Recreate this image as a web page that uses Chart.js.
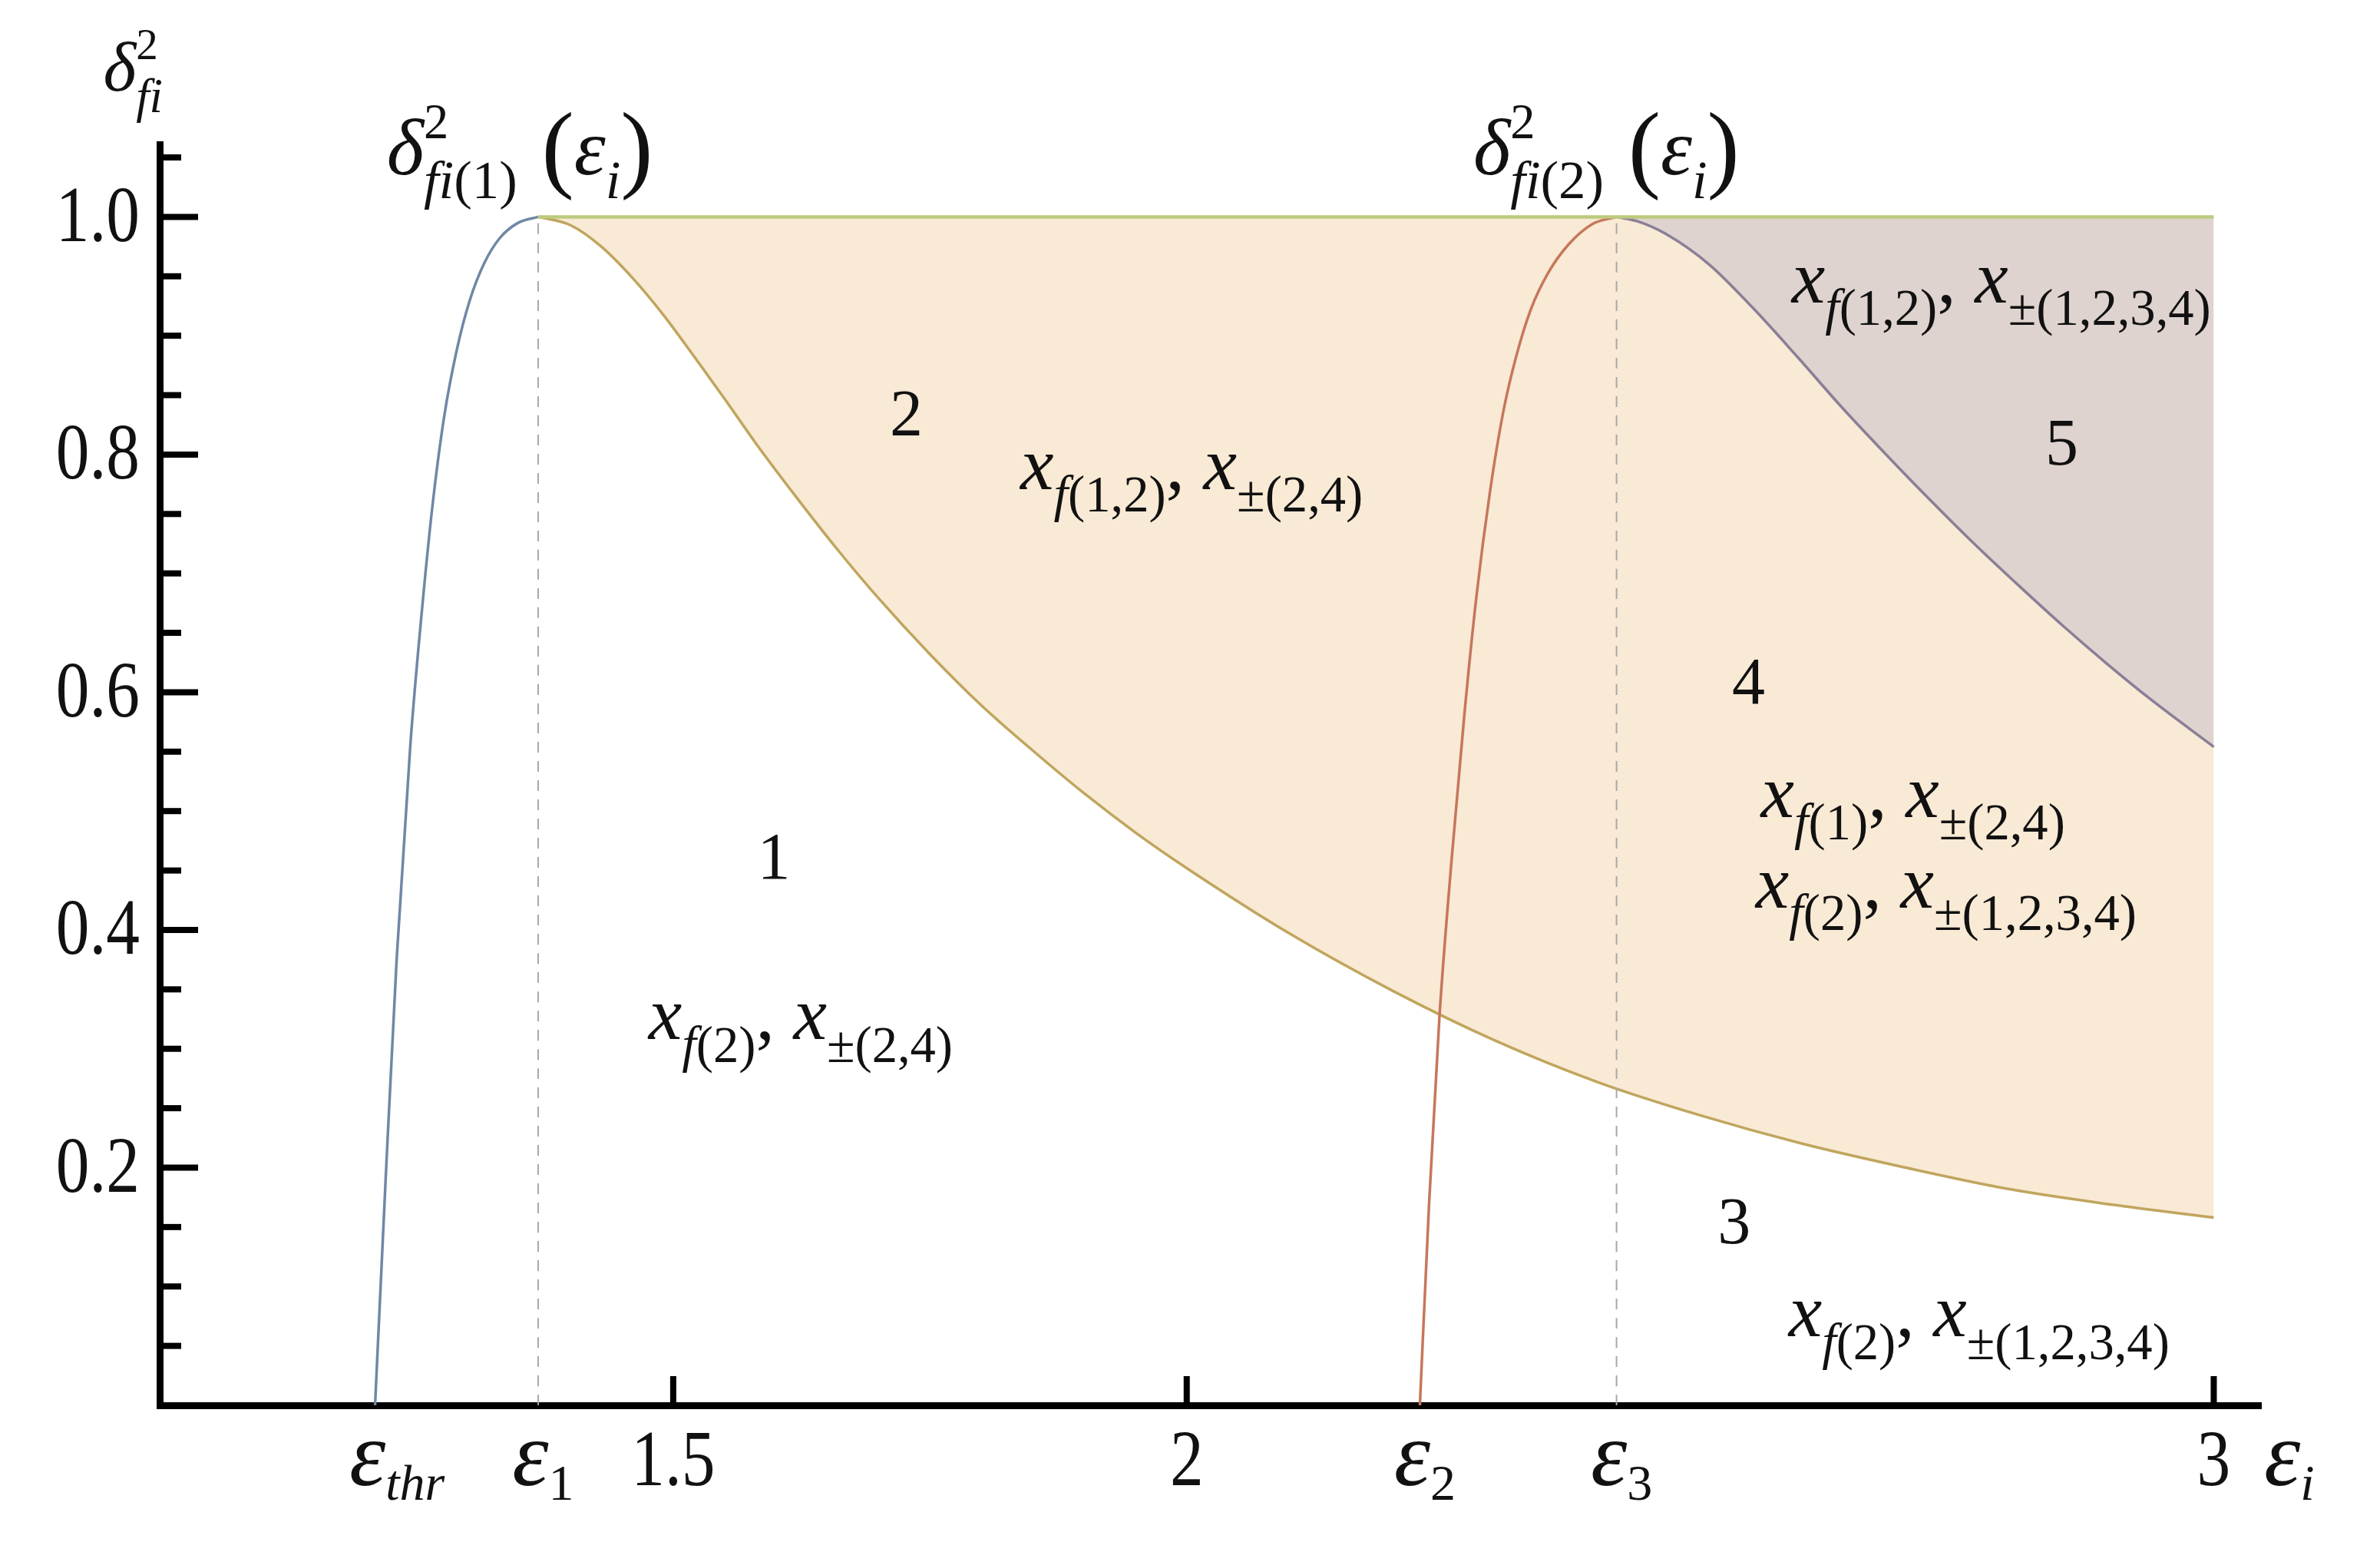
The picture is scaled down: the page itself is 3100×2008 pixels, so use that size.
<!DOCTYPE html>
<html>
<head>
<meta charset="utf-8">
<script src="https://cdn.jsdelivr.net/npm/chart.js@4.4.1/dist/chart.umd.min.js"></script>
<style>
  html, body { margin: 0; padding: 0; background: #fff; }
  canvas { display: block; }
</style>
</head>
<body>
<canvas id="regionChart" width="3100" height="2008"></canvas>
<script>
// characteristic energies marked on the x axis
const epsThr = 1.2097;
const eps1 = 1.3685;
const eps2 = 2.227;
const eps3 = 2.4185;
const epsEnd = 3.0;

// delta^2_fi(1): rising branch from eps_thr to 1 at eps1
const blueEps   = [1.2097, 1.2200, 1.2307, 1.2440, 1.2560, 1.2660, 1.2770, 1.2890, 1.3020, 1.3160, 1.3310, 1.3490, 1.3685];
const blueDelta = [0, 0.190, 0.375, 0.555, 0.675, 0.760, 0.832, 0.887, 0.930, 0.961, 0.982, 0.995, 1.0];

// delta^2_fi(2): rising branch from eps2 to 1 at eps3
const redEps   = [2.2270, 2.2360, 2.2460, 2.2580, 2.2700, 2.2820, 2.2955, 2.3080, 2.3200, 2.3350, 2.3520, 2.3720, 2.3950, 2.4185];
const redDelta = [0, 0.170, 0.326, 0.460, 0.578, 0.680, 0.770, 0.835, 0.880, 0.922, 0.953, 0.977, 0.994, 1.0];

// lower boundary of the shaded region (regions 2 and 4)
const orangeEps   = [1.3685, 1.40, 1.43, 1.46, 1.49, 1.52, 1.55, 1.58, 1.62, 1.66, 1.70, 1.75, 1.80, 1.85, 1.90, 1.95, 2.00, 2.10, 2.20, 2.30, 2.40, 2.50, 2.60, 2.70, 2.80, 2.90, 3.00];
const orangeDelta = [1.0, 0.993, 0.975, 0.949, 0.918, 0.883, 0.847, 0.810, 0.764, 0.720, 0.679, 0.632, 0.589, 0.551, 0.515, 0.482, 0.452, 0.397, 0.349, 0.307, 0.272, 0.244, 0.220, 0.200, 0.182, 0.169, 0.158];

// lower boundary of region 5
const purpleEps   = [2.4185, 2.440, 2.4658, 2.5086, 2.5517, 2.5948, 2.6376, 2.681, 2.7236, 2.7667, 2.8098, 2.853, 2.896, 2.9386, 3.000];
const purpleDelta = [1.0, 0.996, 0.986, 0.960, 0.923, 0.882, 0.840, 0.800, 0.762, 0.725, 0.690, 0.656, 0.624, 0.594, 0.554];

// axis ticks
const yMajorTicks = [0.2, 0.4, 0.6, 0.8, 1.0];
const yMinorTicks = [0.05, 0.1, 0.15, 0.25, 0.3, 0.35, 0.45, 0.5, 0.55, 0.65, 0.7, 0.75, 0.85, 0.9, 0.95, 1.05];
const yTickLabels = ['0.2', '0.4', '0.6', '0.8', '1.0'];
const xNumTicks = [1.5, 2, 3];
const xNumLabels = ['1.5', '2', '3'];
const xEpsTicks = [epsThr, eps1, eps2, eps3];
const xEpsSubs = [['thr', 'u'], ['1', 't'], ['2', 't'], ['3', 't']];

// region numbers (centre, data units)
const regionNames = ['1', '2', '3', '4', '5'];
const regionEps   = [1.598, 1.727, 2.533, 2.547, 2.852];
const regionDelta = [0.458, 0.831, 0.151, 0.605, 0.806];

// solution sets per region (left edge / baseline, data units)
const setEps   = [1.476, 1.838, 2.589, 2.559, 2.554, 2.586];
const setDelta = [0.308, 0.771, 0.928, 0.495, 0.419, 0.058];
const setF     = ['(2)', '(1,2)', '(1,2)', '(1)', '(2)', '(2)'];
const setPM    = ['±(2,4)', '±(2,4)', '±(1,2,3,4)', '±(2,4)', '±(1,2,3,4)', '±(1,2,3,4)'];

const toPoints = (xs, ys) => xs.map((x, i) => ({ x: x, y: ys[i] }));

const SERIF = '"Liberation Serif", "Times New Roman", Tinos, serif';
const INK = '#111111';

function font(size, italic) {
  return (italic ? 'italic ' : '') + size.toFixed(1) + 'px ' + SERIF;
}

// kind: [size factor, italic, baseline shift (em), advances]
const KINDS = {
  I: [1, true, 0, true],
  R: [1, false, 0, true],
  B: [1.22, false, 0.07, true],
  i: [0.68, true, 0.30, true],
  r: [0.68, false, 0.30, true],
  p: [0.62, false, -0.45, false],
  t: [0.55, false, 0.16, true],
  u: [0.55, true, 0.16, true]
};

// draws a run list like [['x','I'],['f','i']] ; align: left | center | first
function drawMath(ctx, runs, x, y, size, align) {
  let total = 0, first = 0;
  runs.forEach(([t, k], n) => {
    const s = KINDS[k];
    ctx.font = font(size * s[0], s[1]);
    const w = ctx.measureText(t).width;
    if (s[3]) total += w;
    if (n === 0) first = w;
  });
  let cx = x;
  if (align === 'center') cx = x - total / 2;
  if (align === 'first') cx = x - first / 2;
  ctx.textAlign = 'left';
  ctx.textBaseline = 'alphabetic';
  ctx.fillStyle = INK;
  runs.forEach(([t, k]) => {
    const s = KINDS[k];
    ctx.font = font(size * s[0], s[1]);
    ctx.fillText(t, cx, y + s[2] * size);
    if (s[3]) cx += ctx.measureText(t).width;
  });
}

// narrow numerals like the original tick labels
function condensedText(ctx, text, x, y, size, align, sx) {
  ctx.save();
  ctx.translate(x, y);
  ctx.scale(sx, 1);
  ctx.font = font(size, false);
  ctx.textAlign = align;
  ctx.fillStyle = INK;
  ctx.fillText(text, 0, 0);
  ctx.restore();
}

const annotations = {
  id: 'annotations',
  afterDraw(chart) {
    const ctx = chart.ctx;
    const xs = chart.scales.x, ys = chart.scales.y;
    const x0 = xs.getPixelForValue(1), y0 = ys.getPixelForValue(0);
    ctx.save();

    // inward tick marks
    ctx.strokeStyle = '#000';
    ctx.lineCap = 'butt';
    ctx.lineWidth = 8;
    yMajorTicks.forEach(v => {
      const py = ys.getPixelForValue(v);
      ctx.beginPath(); ctx.moveTo(x0, py); ctx.lineTo(x0 + 50, py); ctx.stroke();
    });
    yMinorTicks.forEach(v => {
      const py = ys.getPixelForValue(v);
      ctx.beginPath(); ctx.moveTo(x0, py); ctx.lineTo(x0 + 28, py); ctx.stroke();
    });
    xNumTicks.forEach(v => {
      const px = xs.getPixelForValue(v);
      ctx.beginPath(); ctx.moveTo(px, y0); ctx.lineTo(px, y0 - 38); ctx.stroke();
    });

    // y tick labels
    ctx.textBaseline = 'middle';
    yMajorTicks.forEach((v, i) => condensedText(ctx, yTickLabels[i], x0 - 26, ys.getPixelForValue(v) + 4, 104, 'right', 0.84));

    // x tick labels
    const labY = y0 + 104;
    ctx.textBaseline = 'alphabetic';
    xNumTicks.forEach((v, i) => condensedText(ctx, xNumLabels[i], xs.getPixelForValue(v), labY, 104, 'center', 0.84));
    xEpsTicks.forEach((v, i) => {
      drawMath(ctx, [['ε', 'I'], xEpsSubs[i]], xs.getPixelForValue(v) - 10, labY, 120, 'first');
    });
    drawMath(ctx, [['ε', 'I'], ['i', 'u']], xs.getPixelForValue(3.046) + 4, labY, 120, 'left');

    // y axis title
    drawMath(ctx, [['δ', 'I'], ['2', 'p'], ['fi', 'i']], xs.getPixelForValue(0.945), ys.getPixelForValue(1.106), 92, 'left');

    // peak labels
    [['(1)', 1.221], ['(2)', 2.279]].forEach(([n, e]) => {
      drawMath(ctx, [['δ', 'I'], ['2', 'p'], ['fi', 'i'], [n, 'r'], [' (', 'B'], ['ε', 'I'], ['i', 'i'], [')', 'B']],
        xs.getPixelForValue(e), ys.getPixelForValue(1.036), 104, 'left');
    });

    // region numbers
    regionNames.forEach((t, i) => {
      ctx.fillStyle = INK;
      ctx.font = font(86, false);
      ctx.textAlign = 'center';
      ctx.textBaseline = 'middle';
      ctx.fillText(t, xs.getPixelForValue(regionEps[i]), ys.getPixelForValue(regionDelta[i]));
    });

    // solution sets
    setEps.forEach((e, i) => {
      drawMath(ctx, [['x', 'I'], ['f', 'i'], [setF[i], 'r'], [', ', 'R'], ['x', 'I'], [setPM[i], 'r']],
        xs.getPixelForValue(e), ys.getPixelForValue(setDelta[i]), 98, 'left');
    });

    ctx.restore();
  }
};

const curve = (pts, color, extra) => Object.assign({
  data: pts,
  borderColor: color,
  borderWidth: 3.5,
  pointRadius: 0,
  cubicInterpolationMode: 'monotone',
  fill: false
}, extra || {});

const datasets = [
  curve(toPoints(orangeEps, orangeDelta), '#c0a55e', { fill: { value: 1 }, backgroundColor: '#f9ead5', order: 7 }),
  curve(toPoints(purpleEps, purpleDelta), '#8b7f97', { fill: { value: 1 }, backgroundColor: '#ded3cf', order: 6 }),
  curve(toPoints([eps1, eps1], [0, 1]), '#a8a8a8', { borderWidth: 2, borderDash: [14, 11], order: 5 }),
  curve(toPoints([eps3, eps3], [0, 1]), '#a8a8a8', { borderWidth: 2, borderDash: [14, 11], order: 4 }),
  curve(toPoints(redEps, redDelta), '#c6775a', { order: 3 }),
  curve(toPoints(blueEps, blueDelta), '#6f88a5', { order: 2 }),
  curve(toPoints([eps1, epsEnd], [1, 1]), '#bccb7c', { borderWidth: 4.5, order: 1 })
];

const axisOpts = (min, max) => ({
  type: 'linear',
  min: min,
  max: max,
  z: 1,
  ticks: { display: false },
  grid: { display: true, drawTicks: false, drawOnChartArea: false, color: 'rgba(0,0,0,0)' },
  border: { display: true, color: '#000', width: 9 },
  title: { display: false }
});

new Chart(document.getElementById('regionChart').getContext('2d'), {
  type: 'line',
  data: { datasets: datasets },
  options: {
    responsive: false,
    animation: false,
    devicePixelRatio: 1,
    layout: { padding: { left: 208, right: 155, top: 188, bottom: 178 } },
    plugins: { legend: { display: false }, tooltip: { enabled: false } },
    scales: {
      x: axisOpts(1, 3.046),
      y: axisOpts(0, 1.061)
    }
  },
  plugins: [annotations]
});
</script>
</body>
</html>
